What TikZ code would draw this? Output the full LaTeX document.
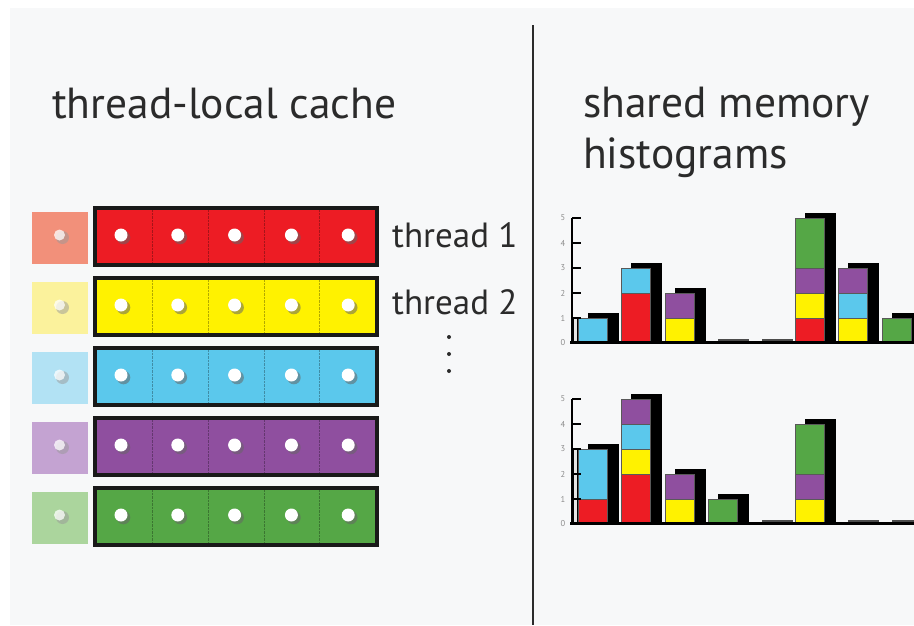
\documentclass[tikz,border=0pt]{standalone}
\usepackage{fontspec}
\setmainfont{PT Sans}
\definecolor{bg}{HTML}{F7F8F9}
\definecolor{cred}{HTML}{ED1C24}
\definecolor{cyel}{HTML}{FFF200}
\definecolor{ccya}{HTML}{5BC8EC}
\definecolor{cpur}{HTML}{8F4F9F}
\definecolor{cgrn}{HTML}{55A746}
\definecolor{lred}{HTML}{F2907A}
\definecolor{lyel}{HTML}{FBF29C}
\definecolor{lcya}{HTML}{B2E2F4}
\definecolor{lpur}{HTML}{C4A3D2}
\definecolor{lgrn}{HTML}{ABD59D}
\definecolor{ink}{HTML}{2B2B2B}
\newcommand\histbar[4]{%
  \pgfmathsetmacro\bx{578+43.4*#2}%
  \fill[black] (\bx+10,#1-25*#4-5) rectangle (\bx+41,#1);
  \foreach \c/\a/\b in {#3}{\draw[seg,fill=\c] (\bx,#1-25*\a) rectangle (\bx+29,#1-25*\b);}
}
\newcommand\histzero[2]{%
  \pgfmathsetmacro\bx{578+43.4*#2}%
  \fill[black!70] (\bx+10,#1-4) rectangle (\bx+41,#1);
}
\newcommand\histaxis[2]{%
  \coordinate (#2o) at (572,#1);
  \coordinate (#2t) at (572,#1-125);
  \coordinate (#2r) at (914,#1);
  \draw[line width=3pt] ([xshift=-2pt,yshift=1pt]#2o) -- ([yshift=1pt]#2r);
  \draw[line width=2.5pt] (#2o) -- (#2t);
  \foreach \k in {1,...,5}{\draw[line width=2.5pt] (572,#1-25*\k) -- (581,#1-25*\k);}
  \foreach \k in {0,...,5}{\node[axlab] (#2l\k) at (563,#1-25*\k) {\k};}
}
\begin{document}
\begin{tikzpicture}[x=1pt,y=-1pt,
  title/.style={font=\fontsize{43.5}{50}\selectfont, text=ink, inner sep=0pt},
  thr/.style={font=\fontsize{35}{40}\selectfont, text=ink, inner sep=0pt},
  rowbox/.style={draw=black!90, line width=4pt, minimum width=282pt, minimum height=57pt, inner sep=0pt, outer sep=0pt},
  ghost/.style={minimum width=56pt, minimum height=52pt, inner sep=0pt, outer sep=0pt},
  dotn/.style={circle, fill=white, minimum size=13pt, inner sep=0pt},
  seg/.style={draw=black!65, line width=0.6pt},
  axlab/.style={font=\fontsize{8.5}{9}\selectfont, text=black!45, inner sep=0pt}]
\useasboundingbox (0,0) rectangle (914,625);
\fill[white] (0,0) rectangle (914,625);
\fill[bg] (10,8) rectangle (914,625);

% titles
\node[title, anchor=base west] (tlc) at (52,118) {thread-local cache};
\node[title, anchor=base west] (smh1) at (583,117) {shared memory};
\node[title, anchor=base west] (smh2) at (583,168) {histograms};

% divider
\coordinate (dtop) at (533,25);
\coordinate (dbot) at (533,625);
\draw[line width=2.5pt, ink] (dtop) -- (dbot);

% thread rows
\foreach \c/\l [count=\i from 0] in {cred/lred,cyel/lyel,ccya/lcya,cpur/lpur,cgrn/lgrn}{
  \pgfmathsetmacro\yt{206+70*\i}
  \node[ghost, fill=\l] (g\i) at (60,\yt+32) {};
  \fill[black!40, opacity=0.5] (62.5,\yt+31.5) circle (6.5pt);
  \fill[white, opacity=0.75] (59.5,\yt+29) circle (5.5pt);
  \node[rowbox, fill=\c] (row\i) at (236,\yt+30.5) {};
  \foreach \k in {1,...,4}{
    \draw[\c!70!black, line width=0.4pt, densely dotted] (97+55.6*\k,\yt+4) -- (97+55.6*\k,\yt+57);}
  \foreach \j in {0,...,4}{
    \fill[black!60, opacity=0.55] (121+56.8*\j+2.5,\yt+29+2.5) circle (6.8pt);
    \node[dotn] (d\i\j) at (121+56.8*\j,\yt+29) {};}
}

% thread labels
\node[thr, anchor=base west] (th1) at (392,247) {thread 1};
\node[thr, anchor=base west] (th2) at (392,314) {thread 2};
\node[circle, fill=ink, inner sep=0pt, minimum size=4pt] (v1) at (449,337) {};
\node[circle, fill=ink, inner sep=0pt, minimum size=4pt] (v2) at (449,354) {};
\node[circle, fill=ink, inner sep=0pt, minimum size=4pt] (v3) at (449,371) {};

% top histogram
\draw[black, line width=0.5pt, fill=black!10] (573.5,343) rectangle (577.5,318);
\histbar{343}{0}{ccya/0/1}{1}
\histbar{343}{1}{cred/0/2,ccya/2/3}{3}
\histbar{343}{2}{cyel/0/1,cpur/1/2}{2}
\histzero{343}{3}
\histzero{343}{4}
\histbar{343}{5}{cred/0/1,cyel/1/2,cpur/2/3,cgrn/3/5}{5}
\histbar{343}{6}{cyel/0/1,ccya/1/2,cpur/2/3}{3}
\histbar{343}{7}{cgrn/0/1}{1}
\histaxis{343}{ha}

% bottom histogram
\draw[black, line width=0.5pt, fill=black!10] (573.5,524) rectangle (577.5,449);
\draw[black, line width=0.5pt] (573.5,499) -- (577.5,499) (573.5,474) -- (577.5,474);
\histbar{524}{0}{cred/0/1,ccya/1/3}{3}
\histbar{524}{1}{cred/0/2,cyel/2/3,ccya/3/4,cpur/4/5}{5}
\histbar{524}{2}{cyel/0/1,cpur/1/2}{2}
\histbar{524}{3}{cgrn/0/1}{1}
\histzero{524}{4}
\histbar{524}{5}{cyel/0/1,cpur/1/2,cgrn/2/4}{4}
\histzero{524}{6}
\histzero{524}{7}
\histaxis{524}{hb}
\end{tikzpicture}
\end{document}
